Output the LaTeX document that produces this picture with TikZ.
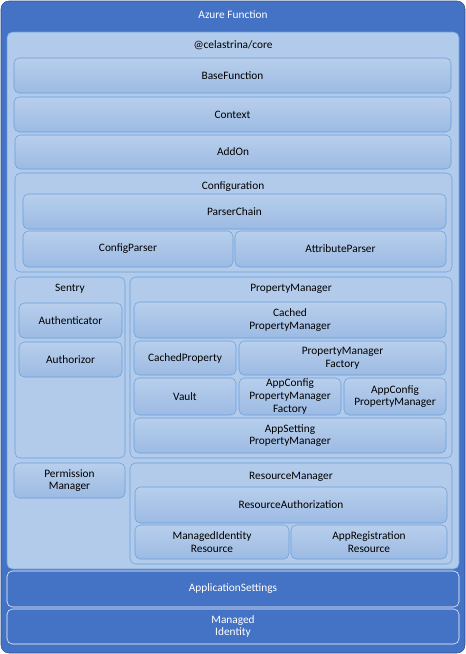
\documentclass[tikz,border=0pt]{standalone}
\usepackage{fontspec}
\setmainfont{Carlito}
\usepackage{tikz}

\definecolor{azdark}{HTML}{4472C4}
\definecolor{azedge}{HTML}{2F528F}
\definecolor{azlight}{HTML}{B2CBEA}
\definecolor{aztop}{HTML}{B8CFEC}
\definecolor{azbot}{HTML}{9CBAE3}
\definecolor{azline}{HTML}{6A9FDC}

\begin{document}
\begin{tikzpicture}[x=0.75pt,y=-0.75pt]
	\tikzset{font=\fontsize{8.5}{9.5}\selectfont, align=center, inner sep=0pt}
	\tikzset{group/.style={draw=azline, fill=azlight, rounded corners=4pt}}
	\tikzset{leaf/.style={draw=azline, top color=aztop, bottom color=azbot, rounded corners=4pt}}
	\tikzset{bar/.style={draw=white, fill=azdark, rounded corners=4pt}}
	\useasboundingbox (0,0) rectangle (466,654);

	\draw[fill=azdark, draw=azedge, rounded corners=6pt] (1,1) rectangle (465,653);
	\node[text=white] (azure) at (233,15) {Azure Function};

	\draw[group] (7,32) rectangle (459,569);
	\node (core) at (233,45) {@celastrina/core};
	\draw[leaf] (14,58) rectangle node (base) {BaseFunction} (451,93);
	\draw[leaf] (14,97) rectangle node (ctx) {Context} (451,132);
	\draw[leaf] (15,135) rectangle node (addon) {AddOn} (451,169);

	\draw[group] (15,173) rectangle (452,272);
	\node (config) at (233,187) {Configuration};
	\draw[leaf] (23,194) rectangle node (chain) {ParserChain} (446,229);
	\draw[leaf] (23,231) rectangle node (cfgparser) {ConfigParser} (233,267);
	\draw[leaf] (235,231) rectangle node (attrparser) {AttributeParser} (446,267);

	\draw[group] (15,277) rectangle (125,458);
	\node (sentry) at (70,289) {Sentry};
	\draw[leaf] (19,303) rectangle node (authn) {Authenticator} (122,338);
	\draw[leaf] (19,342) rectangle node (authz) {Authorizor} (122,377);

	\draw[group] (130,277) rectangle (452,458);
	\node (propmgr) at (291,289) {PropertyManager};
	\draw[leaf] (134,302) rectangle node (cachedmgr) {Cached\\PropertyManager} (446,338);
	\draw[leaf] (134,341) rectangle node (cachedprop) {CachedProperty} (236,375);
	\draw[leaf] (239,341) rectangle node (mgrfactory) {PropertyManager\\Factory} (446,375);
	\draw[leaf] (134,378) rectangle node (vault) {Vault} (236,415);
	\draw[leaf] (239,378) rectangle node (appcfgfactory) {AppConfig\\PropertyManager\\Factory} (341,415);
	\draw[leaf] (344,378) rectangle node (appcfgmgr) {AppConfig\\PropertyManager} (446,415);
	\draw[leaf] (134,418) rectangle node (appsetmgr) {AppSetting\\PropertyManager} (446,453);

	\draw[leaf] (14,463) rectangle node (permmgr) {Permission\\Manager} (125,498);

	\draw[group] (130,463) rectangle (452,564);
	\node (resmgr) at (291,477) {ResourceManager};
	\draw[leaf] (135,487) rectangle node (resauth) {ResourceAuthorization} (447,523);
	\draw[leaf] (135,525) rectangle node (midres) {ManagedIdentity\\Resource} (289,559);
	\draw[leaf] (291,525) rectangle node (appregres) {AppRegistration\\Resource} (447,559);

	\draw[bar] (7,571) rectangle node[text=white] (appsettings) {ApplicationSettings} (459,607);
	\draw[bar] (7,609) rectangle node[text=white] (identity) {Managed\\Identity} (459,644);
\end{tikzpicture}
\end{document}
